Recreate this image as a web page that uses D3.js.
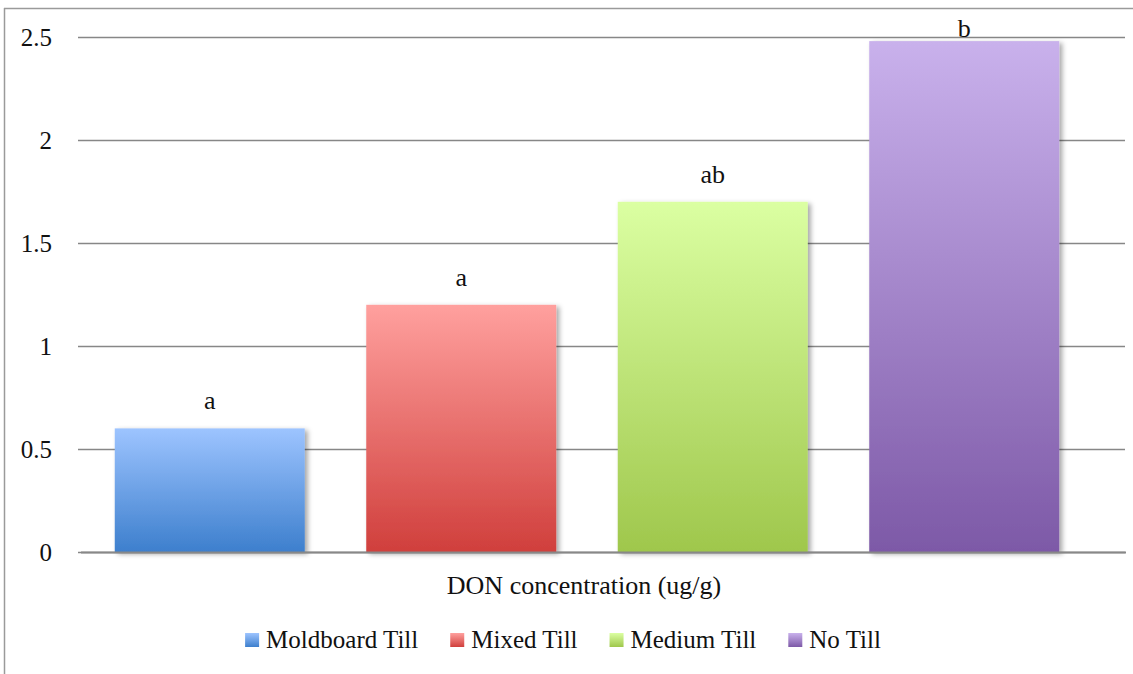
<!DOCTYPE html>
<meta charset="utf-8" />
<style>
  body { margin: 0; background: #fff; }
  text { font-family: 'Liberation Serif', serif; fill: #111; }
  .grid line { stroke: #878787; stroke-width: 1.3px; }
  .grid .domain { display: none; }
</style>
<body>
  <script src="https://d3js.org/d3.v7.min.js"></script>
  <script>
    // data
    var series = ['Moldboard Till', 'Mixed Till', 'Medium Till', 'No Till'];
    var values = [0.6, 1.2, 1.7, 2.48];
    var letters = ['a', 'a', 'ab', 'b'];
    var yTicks = [0, 0.5, 1, 1.5, 2, 2.5];
    var category = 'DON concentration (ug/g)';

    // gradient colours, top -> bottom
    var topColors = ['#9dc4ff', '#ffa09e', '#dbffa2', '#c9b1ec'];
    var bottomColors = ['#3d7fcd', '#d03f3c', '#9fc74c', '#7d59a7'];

    var W = 1133, H = 674;
    var plot = { left: 78, right: 1125, top: 37, bottom: 552 };

    var svg = d3.select('body').append('svg')
      .attr('width', W)
      .attr('height', H);

    var defs = svg.append('defs');
    series.forEach(function(s, i) {
      var g = defs.append('linearGradient')
        .attr('id', 'grad' + i)
        .attr('x1', 0).attr('y1', 0).attr('x2', 0).attr('y2', 1);
      g.append('stop').attr('offset', '0%').attr('stop-color', topColors[i]);
      g.append('stop').attr('offset', '100%').attr('stop-color', bottomColors[i]);
    });
    var f = defs.append('filter').attr('id', 'shadow')
      .attr('x', '-10%').attr('y', '-10%').attr('width', '130%').attr('height', '130%');
    f.append('feDropShadow')
      .attr('dx', 3).attr('dy', 2).attr('stdDeviation', 2.5)
      .attr('flood-color', '#000').attr('flood-opacity', 0.35);

    // chart frame (only top and left edges are visible)
    svg.append('line').attr('x1', 4.5).attr('x2', 4.5).attr('y1', 8).attr('y2', H)
      .attr('stroke', '#9a9a9a').attr('stroke-width', 1.5);
    svg.append('line').attr('x1', 4).attr('x2', W).attr('y1', 8.5).attr('y2', 8.5)
      .attr('stroke', '#9a9a9a').attr('stroke-width', 1.5);

    var y = d3.scaleLinear().domain([0, 2.5]).range([plot.bottom, plot.top]);
    var x = d3.scaleBand().domain(series)
      .range([84, 1090])
      .paddingInner(0.2445)
      .paddingOuter(0.1223);

    // gridlines
    svg.append('g')
      .attr('class', 'grid')
      .attr('transform', 'translate(' + plot.left + ',0)')
      .call(d3.axisRight(y).tickValues(yTicks).tickSize(plot.right - plot.left).tickFormat(''));

    // y tick labels
    svg.append('g')
      .selectAll('text')
      .data(yTicks)
      .join('text')
      .attr('x', 52)
      .attr('y', function(d) { return y(d); })
      .attr('dy', '0.35em')
      .attr('text-anchor', 'end')
      .style('font-size', '25px')
      .text(function(d) { return d; });

    // bars
    svg.append('g')
      .selectAll('rect')
      .data(values)
      .join('rect')
      .attr('x', function(d, i) { return x(series[i]); })
      .attr('y', function(d) { return y(d); })
      .attr('width', x.bandwidth())
      .attr('height', function(d) { return y(0) - y(d); })
      .attr('fill', function(d, i) { return 'url(#grad' + i + ')'; })
      .attr('filter', 'url(#shadow)');

    // axis base line drawn over the bars
    svg.append('line')
      .attr('x1', plot.left + 3).attr('x2', plot.right + 1)
      .attr('y1', y(0) + 0.5).attr('y2', y(0) + 0.5)
      .attr('stroke', '#888').attr('stroke-width', 2);

    // significance letters
    svg.append('g')
      .selectAll('text')
      .data(values)
      .join('text')
      .attr('x', function(d, i) { return x(series[i]) + x.bandwidth() / 2; })
      .attr('y', function(d) { return Math.max(y(d) - 19, plot.top); })
      .attr('text-anchor', 'middle')
      .style('font-size', '26px')
      .text(function(d, i) { return letters[i]; });

    // category label
    svg.append('text')
      .attr('x', 584)
      .attr('y', 594)
      .attr('text-anchor', 'middle')
      .style('font-size', '26px')
      .text(category);

    // legend
    var legend = svg.append('g');
    var items = legend.selectAll('g')
      .data(series)
      .join('g');
    items.append('rect')
      .attr('width', 14).attr('height', 14)
      .attr('y', 633)
      .attr('fill', function(d, i) { return 'url(#grad' + i + ')'; });
    items.append('text')
      .attr('x', 21)
      .attr('y', 648)
      .style('font-size', '25px')
      .text(function(d) { return d; });
    var pos = 0;
    items.each(function() {
      var g = d3.select(this);
      var w = 21 + g.select('text').node().getComputedTextLength();
      g.attr('transform', 'translate(' + pos + ',0)');
      pos += w + 32;
    });
    var total = pos - 32;
    legend.attr('transform', 'translate(' + (563 - total / 2) + ',0)');
  </script>
</body>
